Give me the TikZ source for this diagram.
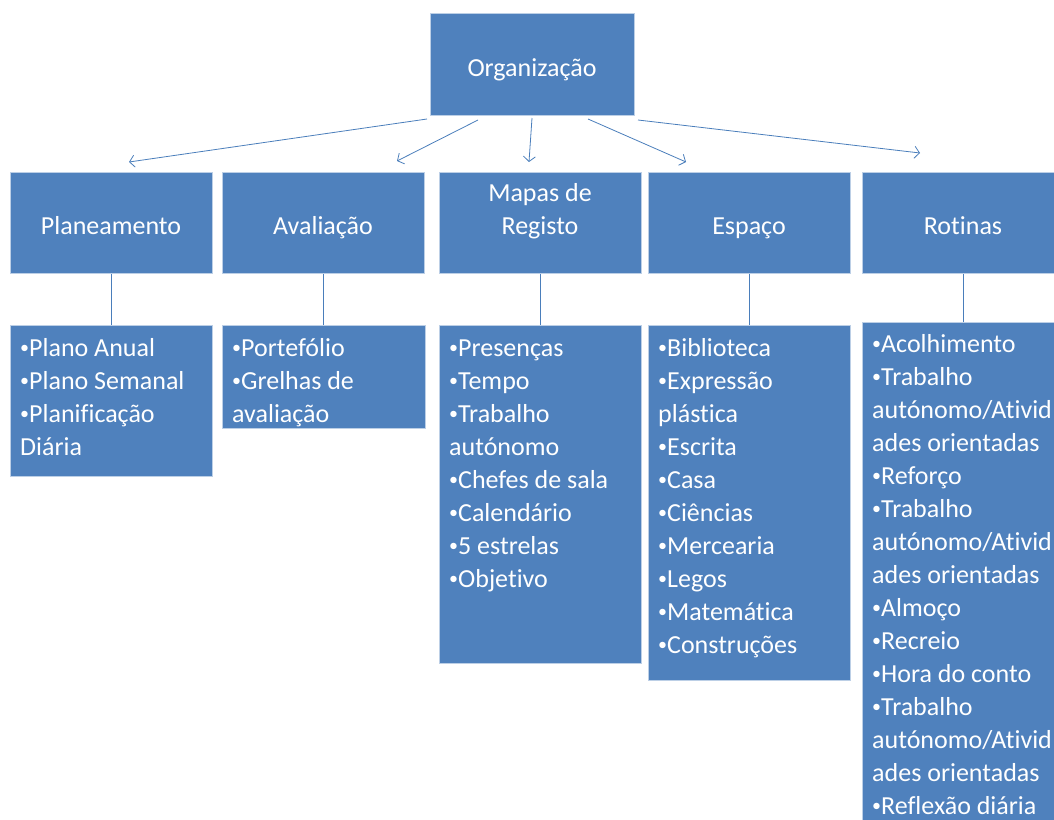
\documentclass[tikz,border=0pt]{standalone}
\usepackage{fontspec}
\setmainfont{Carlito}[Ligatures={NoCommon,NoContextual}]
\usetikzlibrary{arrows.meta}
\definecolor{boxblue}{HTML}{4F81BD}
\definecolor{boxedge}{HTML}{BCCFE6}
\definecolor{linkblue}{HTML}{4A7EBB}
\newcommand{\firstline}{\rule{0pt}{20pt}}
\newcommand{\bul}{\raisebox{3.2pt}{\fontsize{18}{18}\selectfont •}}
\begin{document}
\begin{tikzpicture}[x=1pt,y=-1pt,
 box/.style={draw=boxedge,line width=0.8pt,fill=boxblue,inner sep=0pt,anchor=north west},
 headtext/.style={text=white,font=\fontsize{26}{33}\selectfont,align=center,anchor=north,inner sep=0pt},
 listtext/.style={text=white,font=\fontsize{26}{33}\selectfont,align=left,anchor=north west,inner sep=0pt},
 link/.style={draw=linkblue,line width=0.8pt},
 arr/.style={link,-{Straight Barb[length=5pt,width=12pt]}}]
\useasboundingbox (0,0) rectangle (1054,819);
\clip (0,0) rectangle (1054,819);
% top
\node[box,minimum width=204pt,minimum height=102pt] (org) at (430,13) {};
\node[headtext] (orgt) at (532,56) {\firstline Organização};
% headers
\node[box,minimum width=202pt,minimum height=101pt] (hpl) at (10,172) {};
\node[box,minimum width=202pt,minimum height=101pt] (hav) at (222,172) {};
\node[box,minimum width=202pt,minimum height=101pt] (hma) at (439,172) {};
\node[box,minimum width=202pt,minimum height=101pt] (hes) at (648,172) {};
\node[box,minimum width=202pt,minimum height=101pt] (hro) at (862,172) {};
\node[headtext] (hplt) at (111,214) {\firstline Planeamento};
\node[headtext] (havt) at (323,214) {\firstline Avaliação};
\node[headtext] (hmat) at (540,181) {\firstline Mapas de\\Registo};
\node[headtext] (hest) at (749,214) {\firstline Espaço};
\node[headtext] (hrot) at (963,214) {\firstline Rotinas};
% lists
\node[box,minimum width=202pt,minimum height=151pt] (pl) at (10,325) {};
\node[box,minimum width=203pt,minimum height=103pt] (av) at (222,325) {};
\node[box,minimum width=202pt,minimum height=338pt] (ma) at (439,325) {};
\node[box,minimum width=202pt,minimum height=355pt] (es) at (648,325) {};
\node[box,minimum width=202pt,minimum height=520pt] (ro) at (862,322) {};
\node[listtext] (plt) at (20,336) {\firstline \bul Plano Anual\\\bul Plano Semanal\\\bul Planificação\\Diária};
\node[listtext] (avt) at (232,336) {\firstline \bul Portefólio\\\bul Grelhas de\\avaliação};
\node[listtext] (mat) at (449,336) {\firstline \bul Presenças\\\bul Tempo\\\bul Trabalho\\autónomo\\\bul Chefes de sala\\\bul Calendário\\\bul 5 estrelas\\\bul Objetivo};
\node[listtext] (est) at (658,336) {\firstline \bul Biblioteca\\\bul Expressão\\plástica\\\bul Escrita\\\bul Casa\\\bul Ciências\\\bul Mercearia\\\bul Legos\\\bul Matemática\\\bul Construções};
\node[listtext] (rot) at (872,332) {\firstline \bul Acolhimento\\\bul Trabalho\\autónomo/Ativid\\ades orientadas\\\bul Reforço\\\bul Trabalho\\autónomo/Ativid\\ades orientadas\\\bul Almoço\\\bul Recreio\\\bul Hora do conto\\\bul Trabalho\\autónomo/Ativid\\ades orientadas\\\bul Reflexão diária};
% arrows
\coordinate (s1) at (427,119); \coordinate (e1) at (129,162);
\coordinate (s2) at (478,120); \coordinate (e2) at (397,161);
\coordinate (s3) at (532,118); \coordinate (e3) at (529,162);
\coordinate (s4) at (588,119); \coordinate (e4) at (686,162);
\coordinate (s5) at (638,120); \coordinate (e5) at (920,153);
\draw[arr] (s1) -- (e1);
\draw[arr] (s2) -- (e2);
\draw[arr] (s3) -- (e3);
\draw[arr] (s4) -- (e4);
\draw[arr] (s5) -- (e5);
% vertical links
\draw[link] (hpl.south) -- (pl.north);
\draw[link] (hav.south) -- (hav.south |- av.north);
\draw[link] (hma.south) -- (ma.north);
\draw[link] (hes.south) -- (es.north);
\draw[link] (hro.south) -- (ro.north);
\end{tikzpicture}
\end{document}
